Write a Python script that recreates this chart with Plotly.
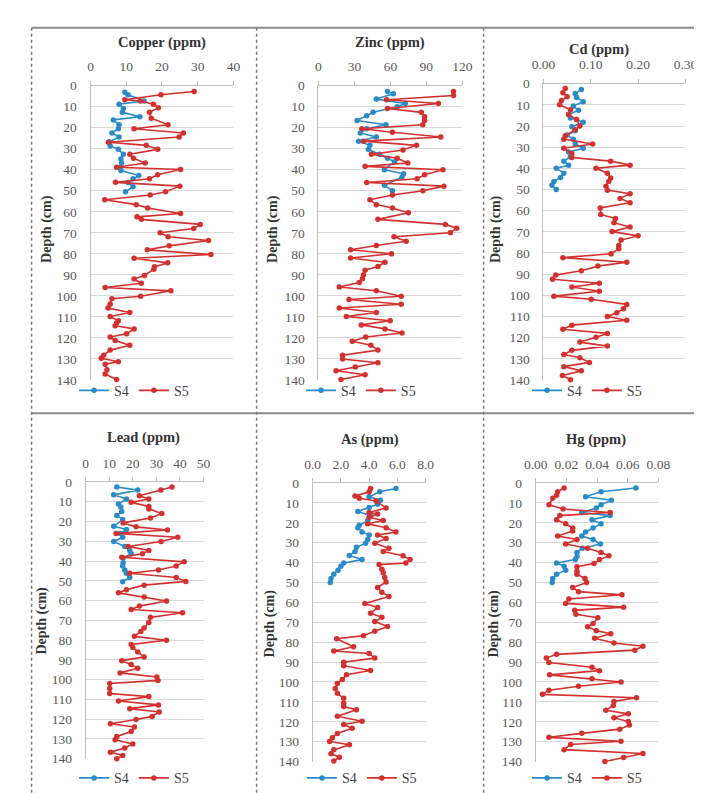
import plotly.graph_objects as go

# ---------------- data (depth in cm, concentration) ----------------
CU_S4_DEPTH = [3.1, 4.3, 7.3, 8.8, 10.9, 12.7, 14.8, 16.3, 18.6, 20.5, 22.5, 24.4, 26.7, 28.7, 30.3, 32.6, 34.9, 36.8, 38.8, 40.4, 42.7, 44.3, 46.1, 48.1, 50.5]
CU_S4 = [9.6, 10.5, 15, 8, 9.2, 8.9, 13.8, 6.4, 8, 7.8, 6, 8, 5.3, 5.5, 7.8, 9.2, 8.5, 8.7, 8.3, 8.5, 13.5, 11.9, 10.5, 11.9, 9.8]
CU_S5_DEPTH = [2.8, 4.3, 6.7, 7.3, 8.8, 10.5, 12.7, 15.5, 18.6, 20.5, 22.5, 24.4, 26.9, 28.4, 30.3, 32.6, 34.5, 36.8, 38.8, 39.9, 42.4, 44.3, 46, 47.8, 50.5, 52, 54.3, 56.6, 58.2, 60.8, 62.4, 63.6, 66, 68, 70, 71.9, 73.7, 76.2, 78.1, 80.3, 82.1, 84.3, 86.2, 87.3, 90.3, 92, 94, 96, 97.6, 100.2, 101.4, 104, 105.8, 107.9, 109.8, 111.8, 112.9, 114.2, 115.7, 118, 119.6, 121.2, 123.5, 125.8, 128.2, 129.7, 131.3, 132.5, 135.2, 137.2, 139.8]
CU_S5 = [29, 19.7, 9.6, 14, 17.6, 19, 16.5, 17, 21.7, 12.2, 26, 24.8, 5, 15.6, 18.8, 11, 12, 15.3, 7.3, 25.2, 18.8, 16.5, 7, 25, 21, 16.7, 4, 12.8, 16, 25.2, 13, 14.2, 30.7, 28.9, 19.5, 21.7, 33, 22, 15.9, 33.7, 12.2, 21.6, 17.9, 17.7, 15.1, 12.2, 14.2, 4.1, 22.5, 14, 6, 5.5, 4.9, 11, 5.5, 7.8, 7.3, 6.9, 12.2, 10.1, 5.5, 6.9, 11, 5.5, 3.7, 3, 7.8, 4.1, 4.6, 4.1, 7.3]

ZN_S4_DEPTH = [2.8, 3.9, 6.4, 8.5, 10, 12.7, 14.3, 16.6, 18.6, 20.5, 22.5, 24.4, 26.4, 28.4, 30.3, 32.6, 34.5, 36.2, 40, 41.9, 43.5, 47.4, 50]
ZN_S4 = [57.6, 62.5, 48.3, 72.4, 65.7, 45.6, 40.2, 32.2, 56.3, 40.2, 34.9, 48.3, 33.5, 42.9, 41.6, 51, 57.6, 63.5, 55, 71, 69.7, 55, 61.7]
ZN_S5_DEPTH = [2.8, 4.7, 6.7, 8.5, 10.9, 12.7, 14.8, 16.6, 18.6, 20.5, 22.2, 24.4, 26.4, 28.4, 30.6, 32.6, 34.5, 36.8, 38.4, 40, 42.4, 44.3, 46.1, 47.8, 50, 52, 54.3, 56.6, 58.2, 60.5, 63.6, 66, 67.8, 70, 71.9, 74, 76, 78.1, 80, 82, 84, 86, 87.8, 90.1, 91.8, 93.6, 95.8, 97.6, 100.2, 101.7, 104, 105.8, 107.9, 109.8, 111.8, 113.8, 115.7, 117.7, 119.6, 121.6, 123.5, 125.8, 128.2, 130, 131.8, 133.8, 135.6, 137.5, 139.8]
ZN_S5 = [112.6, 112.6, 56.8, 100, 57.6, 85.8, 88.5, 88.5, 87, 36.2, 61.7, 102, 37.5, 81.8, 70.5, 44.2, 65.7, 74.5, 38.9, 103.8, 88.5, 82.3, 40.2, 104.6, 87.1, 61.7, 42.9, 48.3, 61.7, 75, 49.6, 105.9, 115.3, 110, 63, 73.2, 48.3, 26.8, 60.9, 26.8, 55.5, 49.6, 38.9, 37.5, 36.7, 34, 17.4, 48.3, 69, 25.5, 69, 17.4, 48.3, 23.3, 59.8, 35.7, 55.5, 69.7, 39.4, 28.2, 43.7, 49.6, 20.1, 20.1, 49.6, 30.8, 14.7, 38.9, 18.8]

CD_S4_DEPTH = [2.8, 4.6, 6.5, 8.5, 10.5, 12.6, 14.6, 16.2, 18.2, 20.3, 22.3, 24.3, 26.2, 28.5, 30.5, 32.3, 34.6, 36.6, 38.5, 40, 42.3, 44.3, 46.2, 48, 50]
CD_S4 = [0.080, 0.067, 0.070, 0.084, 0.063, 0.074, 0.053, 0.057, 0.084, 0.060, 0.067, 0.050, 0.063, 0.067, 0.084, 0.053, 0.057, 0.043, 0.053, 0.027, 0.043, 0.036, 0.022, 0.018, 0.027]
CD_S5_DEPTH = [2.3, 4.3, 6.2, 8, 10, 12.3, 14.6, 16.9, 20, 21.8, 24.6, 26.2, 28.5, 30.5, 33, 34.9, 36.6, 38.5, 40, 42.3, 44.6, 46.2, 48.5, 50.3, 52, 54.2, 56.3, 58.7, 61.8, 63.7, 65.7, 67.7, 69.9, 71.9, 73.9, 76.5, 78, 80.4, 82.2, 84.4, 86.2, 88.4, 90.4, 92.4, 94.3, 96.1, 98.1, 100.4, 101.9, 104.3, 106.3, 108.2, 110, 111.8, 114.1, 116, 118, 119.8, 122.1, 124, 126, 128, 129.5, 131.7, 133.7, 135.7, 137.9, 139.9]
CD_S5 = [0.046, 0.041, 0.050, 0.038, 0.034, 0.057, 0.053, 0.070, 0.077, 0.067, 0.046, 0.043, 0.104, 0.043, 0.060, 0.060, 0.142, 0.183, 0.111, 0.135, 0.142, 0.138, 0.132, 0.135, 0.183, 0.162, 0.183, 0.120, 0.121, 0.152, 0.149, 0.183, 0.145, 0.200, 0.164, 0.159, 0.159, 0.143, 0.041, 0.176, 0.115, 0.080, 0.026, 0.019, 0.118, 0.060, 0.118, 0.022, 0.101, 0.176, 0.169, 0.155, 0.135, 0.176, 0.060, 0.041, 0.135, 0.111, 0.077, 0.135, 0.060, 0.043, 0.077, 0.097, 0.043, 0.080, 0.040, 0.057]

PB_S4_DEPTH = [2.5, 4.1, 6.5, 8.6, 11.1, 12.7, 14.9, 16.9, 19, 22.4, 24, 26, 28, 30.1, 32.6, 34.6, 36.3, 38.4, 40.9, 42.5, 44.5, 46.2, 48.3, 50.5]
PB_S4 = [13.2, 22.1, 11.9, 17.3, 13.9, 14.9, 15.3, 13.2, 15.7, 11.9, 17.3, 14.6, 15.7, 11.9, 16.6, 18.7, 19.3, 15.9, 15.9, 15.7, 16.6, 17.3, 18.7, 15.7]
PB_S5_DEPTH = [2.5, 4.1, 7, 8.6, 10.3, 12.4, 13.6, 16, 18.2, 20.7, 22.7, 24.3, 26, 28, 30.1, 32.6, 34.6, 36.3, 38.1, 40.4, 42.5, 44.5, 46.2, 48.3, 50.3, 52.2, 54.5, 56.1, 58.2, 60.2, 62.8, 64.5, 66.2, 68.5, 71.1, 73.9, 75.6, 78.1, 80.1, 82.2, 83.8, 86, 88.5, 90.4, 92.4, 94.3, 96.6, 98.7, 100.4, 102, 104.5, 107, 108.6, 110.8, 112.8, 114.7, 116.4, 118.6, 120.2, 122.3, 124, 126.3, 128.8, 130.4, 132.6, 134.6, 136.7, 138.4, 140]
PB_S5 = [36.6, 31.9, 22.8, 26.8, 19.3, 26.8, 26.8, 32.3, 27.5, 15.9, 21.4, 34.7, 12.9, 39.1, 32, 18, 26.8, 24.1, 15.3, 41.8, 38.4, 30.9, 18.7, 38.4, 42.5, 24.8, 17.3, 13.9, 24.8, 34.3, 22.8, 19.3, 41.1, 27.5, 26.8, 24.8, 23.4, 20.7, 34.3, 19.3, 20, 22.1, 24.8, 15.3, 19.3, 22.1, 14.6, 30.2, 30.7, 10.2, 10.2, 10.2, 26.8, 13.9, 30.9, 18.7, 31.2, 28.2, 21.4, 10.5, 20.7, 19.3, 13.2, 12.5, 20, 16.6, 10.5, 15.7, 13.2]

AS_S4_DEPTH = [2.8, 4.4, 6.9, 8.7, 10.7, 12.3, 14.3, 16.4, 18.9, 21.3, 22.5, 24.6, 26.2, 28.4, 30.3, 32.3, 34.4, 36.4, 38.5, 40.2, 41.8, 43.8, 45.9, 48, 50]
AS_S4 = [5.9, 4.75, 4.0, 4.8, 4.6, 4.0, 3.2, 4.1, 3.9, 3.3, 3.2, 3.5, 4.0, 3.9, 3.75, 3.1, 3.0, 2.6, 3.5, 2.2, 2.0, 1.8, 1.5, 1.3, 1.25]
AS_S5_DEPTH = [2.8, 4.4, 6.6, 7.7, 9, 12.6, 14.8, 15.6, 17.2, 18.9, 20.5, 22.5, 24.6, 26.2, 27.9, 30.3, 32.8, 34.4, 36.6, 38.5, 40.2, 41, 43.4, 45.1, 47.5, 49.7, 52.5, 54.9, 57, 60.6, 62.6, 65.5, 67.5, 69.6, 72.1, 74.5, 76.7, 78.3, 82.3, 84.4, 85.7, 88, 90.1, 91.8, 94.2, 96.4, 98.7, 100.8, 103.3, 105.7, 108.2, 110.7, 112.3, 114, 117.2, 119.7, 121.4, 123.3, 125.9, 128, 129.9, 131.5, 134.1, 136.1, 137.8, 139.7]
AS_S5 = [4.1, 4.0, 3.0, 3.3, 4.5, 5.2, 4.0, 4.6, 4.0, 5.0, 3.9, 5.2, 5.9, 4.6, 5.2, 4.4, 5.4, 5.0, 6.4, 6.9, 6.6, 4.7, 4.9, 5.0, 5.1, 5.2, 4.6, 4.9, 5.4, 3.7, 4.6, 4.1, 4.9, 4.4, 5.3, 4.4, 3.6, 1.7, 2.9, 1.5, 4.0, 4.4, 2.2, 2.2, 4.1, 2.4, 2.1, 1.75, 1.6, 1.75, 2.2, 2.2, 2.2, 3.1, 1.75, 3.5, 2.2, 2.8, 1.75, 1.4, 1.2, 2.6, 1.5, 1.3, 1.9, 1.5]

HG_S4_DEPTH = [2.5, 4.4, 6.9, 8.7, 11, 12.6, 14.8, 16.4, 18.5, 20.5, 22.6, 24.6, 26.7, 28.4, 30.7, 32.8, 34.9, 36.9, 38.5, 40.2, 41.8, 43.8, 45.9, 48, 50]
HG_S4 = [0.0653, 0.0426, 0.0325, 0.0493, 0.0426, 0.0395, 0.0300, 0.0485, 0.0367, 0.0426, 0.0374, 0.0325, 0.0300, 0.0374, 0.0422, 0.0304, 0.0269, 0.0269, 0.0258, 0.0136, 0.0185, 0.0195, 0.0136, 0.0111, 0.0107]
HG_S5_DEPTH = [2.5, 4.4, 6.2, 7.7, 11, 13.1, 14.8, 16.4, 18.5, 20.5, 22.6, 24.1, 26.6, 28.4, 30.7, 32.8, 34.9, 36.6, 38.5, 40.5, 42.1, 44.3, 45.9, 48, 50, 52.5, 54.6, 56.2, 58.3, 60.5, 62.4, 64, 66, 67.7, 70.6, 72.2, 74.2, 75.8, 78, 80.4, 82, 84, 86.1, 88, 90.2, 92.6, 94.3, 96.4, 98.4, 100, 102.1, 104.1, 106.2, 107.9, 109.8, 111.8, 114.2, 116, 118, 119.9, 121.6, 123.7, 125.8, 127.8, 129.8, 131.4, 134, 135.9, 137.9, 140]
HG_S5 = [0.0185, 0.0143, 0.0136, 0.0111, 0.0086, 0.0178, 0.0485, 0.0157, 0.0136, 0.0195, 0.0241, 0.0241, 0.0143, 0.0269, 0.0195, 0.0338, 0.0426, 0.0478, 0.0416, 0.0380, 0.0269, 0.0269, 0.0269, 0.0321, 0.0332, 0.0241, 0.0279, 0.0562, 0.0216, 0.0195, 0.0573, 0.0254, 0.0262, 0.0405, 0.0374, 0.0338, 0.0395, 0.0489, 0.0384, 0.0510, 0.0699, 0.0646, 0.0136, 0.0069, 0.0086, 0.0367, 0.0416, 0.0090, 0.0367, 0.0556, 0.0279, 0.0086, 0.0044, 0.0657, 0.0510, 0.0506, 0.0457, 0.0604, 0.0510, 0.0604, 0.0611, 0.0548, 0.0300, 0.0086, 0.0556, 0.0227, 0.0185, 0.0699, 0.0573, 0.0451]

TITLES = ["Copper (ppm)", "Zinc (ppm)", "Cd (ppm)", "Lead (ppm)", "As (ppm)", "Hg (ppm)"]
X_TICKS = [[0, 10, 20, 30, 40], [0, 30, 60, 90, 120], [0, 0.1, 0.2, 0.3],
           [0, 10, 20, 30, 40, 50], [0, 2, 4, 6, 8], [0, 0.02, 0.04, 0.06, 0.08]]
X_FORMATS = ["d", "d", ".2f", "d", ".1f", ".2f"]
DEPTH_TICKS = list(range(0, 141, 10))
SERIES_NAMES = ["S4", "S5"]
Y_TITLE = "Depth (cm)"

SERIES = [
    (CU_S4_DEPTH, CU_S4, CU_S5_DEPTH, CU_S5),
    (ZN_S4_DEPTH, ZN_S4, ZN_S5_DEPTH, ZN_S5),
    (CD_S4_DEPTH, CD_S4, CD_S5_DEPTH, CD_S5),
    (PB_S4_DEPTH, PB_S4, PB_S5_DEPTH, PB_S5),
    (AS_S4_DEPTH, AS_S4, AS_S5_DEPTH, AS_S5),
    (HG_S4_DEPTH, HG_S4, HG_S5_DEPTH, HG_S5),
]

# ---------------- layout geometry (pixels) ----------------
W, H = 702, 793
FONT = "Liberation Serif"
BLUE = "#2b8bc7"
RED = "#d2312f"

# plot areas: (left, right, top, bottom) in px
AREAS = [(73, 221, 72, 372), (309, 458, 72, 372), (542, 689, 70, 372),
         (68, 190, 476, 758), (303, 420, 477, 761), (534, 661, 477, 761)]
TITLE_POS = [(147, 28), (383, 28), (600, 35), (128, 431), (362, 433), (596, 433)]
YTITLE_POS = [(28, 218), (262, 218), (493, 218), (23, 617), (259, 620), (491, 620)]
LEGEND_POS = [(75, 383), (310, 383), (544, 383), (75, 778), (311, 778), (544, 778)]
X_RANGES = [[0, 40], [0, 120], [0, 0.3], [0, 50], [0, 8], [0, 0.08]]


def px(x):
    return x / W


def py(y):
    return 1 - y / H


fig = go.Figure()
annotations = []
layout = {}

for i in range(6):
    k = "" if i == 0 else str(i + 1)
    l, r, t, b = AREAS[i]
    d4, v4, d5, v5 = SERIES[i]
    leg = "legend" + k
    for name, d, v, col in ((SERIES_NAMES[0], d4, v4, BLUE), (SERIES_NAMES[1], d5, v5, RED)):
        fig.add_trace(go.Scatter(
            x=v, y=d, name=name, mode="lines+markers",
            line=dict(color=col, width=1.6),
            marker=dict(color=col, size=5.5),
            xaxis="x" + k, yaxis="y" + k, legend=leg, cliponaxis=False,
        ))
    layout["xaxis" + k] = dict(
        domain=[px(l), px(r)], range=X_RANGES[i], side="top", anchor="y" + k,
        showgrid=False, zeroline=False, showline=True, linecolor="#bfbfbf", linewidth=1,
        ticks="outside", ticklen=4, tickcolor="#bfbfbf",
        tickvals=X_TICKS[i], tickformat=X_FORMATS[i],
        tickfont=dict(family=FONT, size=13.5, color="#595959"), ticklabelstandoff=4,
    )
    layout["yaxis" + k] = dict(
        domain=[py(b), py(t)], range=[140, 0], anchor="x" + k,
        showgrid=True, gridcolor="#d9d9d9", gridwidth=1, zeroline=False,
        showline=True, linecolor="#bfbfbf", linewidth=1,
        tickvals=DEPTH_TICKS, ticks="",
        tickfont=dict(family=FONT, size=13.5, color="#595959"), ticklabelstandoff=10,
    )
    lx, ly = LEGEND_POS[i]
    layout[leg] = dict(
        x=px(lx - 19), y=py(ly), xanchor="left", yanchor="middle",
        orientation="h", bgcolor="rgba(0,0,0,0)", borderwidth=0,
        font=dict(family=FONT, size=14, color="#404040"), itemwidth=30,
    )
    tx, ty = TITLE_POS[i]
    annotations.append(dict(
        text="<b>" + TITLES[i] + "</b>", x=px(tx), y=py(ty), xref="paper", yref="paper",
        showarrow=False, xanchor="center", yanchor="middle",
        font=dict(family=FONT, size=14.5, color="#333333"),
    ))
    yx, yy = YTITLE_POS[i]
    annotations.append(dict(
        text="<b>" + Y_TITLE + "</b>", x=px(yx), y=py(yy), xref="paper", yref="paper",
        showarrow=False, xanchor="center", yanchor="middle", textangle=-90,
        font=dict(family=FONT, size=14, color="#333333"),
    ))

# panel frame lines
shapes = []
frame = dict(color="#8c8c8c", width=2)
for yline in (13, 406):
    shapes.append(dict(type="line", xref="paper", yref="paper",
                       x0=px(12), x1=1, y0=py(yline), y1=py(yline), line=frame))
for xline in (12, 245, 480):
    shapes.append(dict(type="line", xref="paper", yref="paper",
                       x0=px(xline), x1=px(xline), y0=py(13), y1=0,
                       line=dict(color="#7a7a7a", width=1.5, dash="dot")))

fig.update_layout(
    width=W, height=H, margin=dict(l=0, r=0, t=0, b=0),
    paper_bgcolor="white", plot_bgcolor="white",
    annotations=annotations, shapes=shapes, **layout,
)

fig.write_html("out.html")
